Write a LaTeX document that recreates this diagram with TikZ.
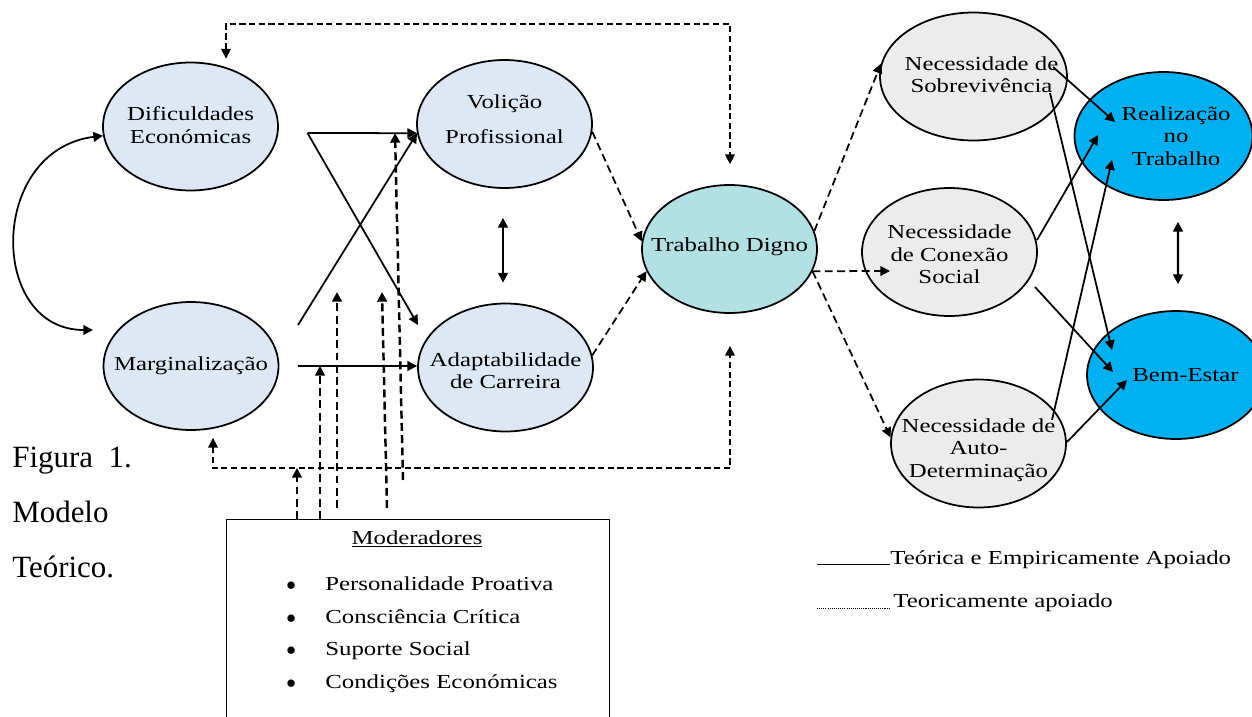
\documentclass[tikz,border=0pt]{standalone}
\usepackage{fontspec}
\setmainfont{Liberation Serif}[FakeStretch=1.25]
\newfontfamily\capfont{Liberation Serif}
\usetikzlibrary{shapes.geometric,arrows.meta,calc}
\definecolor{paleblue}{HTML}{DEE8F4}
\definecolor{paleteal}{HTML}{B2E0E3}
\definecolor{palegray}{HTML}{ECECEC}
\definecolor{brightblue}{HTML}{00B0F0}
\tikzset{
  txt/.style={align=center, font=\fontsize{11.3}{12.75}\selectfont},
  bubble/.style={ellipse, draw, line width=1pt, minimum width=3.5cm, minimum height=2.56cm, inner sep=0pt},
  antecedent/.style={bubble, fill=paleblue},
  mediator/.style={bubble, fill=paleteal},
  needbubble/.style={bubble, fill=palegray},
  outcome/.style={bubble, fill=brightblue, minimum width=3.56cm},
  path solid/.style={line width=1pt, ->},
  path dashed/.style={path solid, dash pattern=on 4.5pt off 2.5pt},
  mod dashed/.style={path dashed, line width=1.4pt},
  elbow/.style={line width=0.7pt, dash pattern=on 3.5pt off 2pt, <->},
  caption/.style={anchor=base west, inner sep=0pt, font=\capfont\fontsize{17.6}{20}\selectfont},
}

\begin{document}
\begin{tikzpicture}[x=0.02cm,y=-0.02cm,>={Triangle[length=5.5pt,width=5.5pt]}]
\useasboundingbox[fill=white] (0,0) rectangle (1252,717);
% ellipses
\node[antecedent, label={[txt, yshift=0.03cm]center:Dificuldades\\Económicas}] (dif) at (190.5,126.5) {};
\node[antecedent, label={[txt]center:Marginalização}] (marg) at (191,366) {};
\node[antecedent, label={[txt, yshift=0.09cm, font=\fontsize{11.3}{19.8}\selectfont]center:Volição\\Profissional}] (vol) at (504.5,124) {};
\node[antecedent, label={[txt, yshift=-0.07cm]center:Adaptabilidade\\de Carreira}] (adapt) at (505.5,367.5) {};
\node[mediator, label={[txt, yshift=0.04cm]center:Trabalho Digno}] (trab) at (729.5,249) {};
\node[needbubble, minimum width=3.74cm, label={[txt, xshift=0.16cm, yshift=0.04cm]center:Necessidade de\\Sobrevivência}] (sob) at (973.5,76.5) {};
\node[needbubble, label={[txt, yshift=-0.05cm]center:Necessidade\\de Conexão\\Social}] (con) at (949.5,252) {};
\node[needbubble, label={[txt, yshift=-0.13cm]center:Necessidade de\\Auto-\\Determinação}] (auto) at (978.5,443.5) {};
\node[outcome, label={[txt, xshift=0.25cm]center:Realização\\no\\Trabalho}] (real) at (1163.5,136) {};
\node[outcome, label={[txt, xshift=0.19cm]center:Bem-Estar}] (bem) at (1176,375) {};

% moderators box
\node[draw, line width=0.8pt, anchor=north west, inner sep=0pt, minimum width=7.66cm, minimum height=4.8cm] (mods) at (226,519) {};
\node[txt, anchor=base] (modtitle) at (417,544) {\underline{Moderadores}};
\node[txt, anchor=base west, inner sep=0pt] (item1) at (286,590) {\makebox[0.78cm][l]{$\bullet$}Personalidade Proativa};
\node[txt, anchor=base west, inner sep=0pt] (item2) at (286,623) {\makebox[0.78cm][l]{$\bullet$}Consciência Crítica};
\node[txt, anchor=base west, inner sep=0pt] (item3) at (286,655) {\makebox[0.78cm][l]{$\bullet$}Suporte Social};
\node[txt, anchor=base west, inner sep=0pt] (item4) at (286,688) {\makebox[0.78cm][l]{$\bullet$}Condições Económicas};

% caption
\node[caption] (fignum) at (12,467) {Figura\ \ 1.};
\node[caption] (figmodel) at (12,522) {Modelo};
\node[caption] (figtheory) at (12,577) {Teórico.};

% legend
\node[txt, anchor=base west, inner sep=0pt] (legsolid) at (890,564) {Teórica e Empiricamente Apoiado};
\node[txt, anchor=base west, inner sep=0pt] (legdash) at (893,607) {Teoricamente apoiado};
\draw[line width=0.5pt] ($(legsolid.base west)+(-73,0)$) -- (legsolid.base west);
\draw[line width=0.5pt, dash pattern=on 0.6pt off 0.6pt] ($(legdash.base west)+(-76,1)$) -- ($(legdash.base west)+(-3,1)$);

% free ends
\coordinate (difout) at (307.5,133);
\coordinate (margup) at (298,325);
\coordinate (margout) at (298,366);
\coordinate (topline) at (0,24);
\coordinate (botline) at (0,468);
\coordinate (difcap) at ($(dif.north)+(35.5,-3)$);
\coordinate (trabcap) at ($(trab.north)+(0.5,-20)$);
\coordinate (margfoot) at ($(marg.south)+(22,7)$);
\coordinate (trabfoot) at ($(trab.south)+(0.5,32)$);

% antecedents -> mediators
\draw[line width=1pt, <->] (dif.186) .. controls (-12,150) and (-12,330) .. ($(marg)+(-98,-36)$);
\draw[path solid] (difout) -- (vol.186);
\draw[path solid] (difout) -- ($(adapt)+(-87.5,-42.5)$);
\draw[path solid] (margup) -- (vol.186);
\draw[path solid] (margout) -- (margout -| adapt.west);
\draw[line width=1.2pt, <->] ($(vol.south)+(-1.5,29)$) -- ($(adapt.north)+(-2.5,-20)$);
\draw[path dashed] (vol.-5) -- (trab.175);
\draw[path dashed] (adapt.8) -- (trab.195);
\draw[elbow] (difcap) -- (difcap |- topline) -| (trabcap);
\draw[elbow] (margfoot) -- (margfoot |- botline) -| (trabfoot);

% mediator -> needs
\draw[path dashed] (trab.12) -- (sob.172);
\draw[path dashed] (trab.-15) -- ($(con)+(-59.5,19)$);
\draw[path dashed] (trab.-15) -- (auto.176);

% needs -> outcomes
\draw[path solid] ($(sob)+(79.5,-9.5)$) -- ($(real)+(-48.5,-14)$);
\draw[path solid] ($(sob)+(76.5,16.5)$) -- ($(bem)+(-64,-25)$);
\draw[path solid] ($(con)+(87.5,-12)$) -- ($(real)+(-65.5,-1)$);
\draw[path solid] ($(auto)+(73.5,-23.5)$) -- ($(real)+(-51.5,24)$);
\draw[path solid] ($(con)+(85.5,35)$) -- ($(bem)+(-63,-3)$);
\draw[path solid] ($(auto)+(88.5,-1.5)$) -- ($(bem)+(-49,5)$);
\draw[line width=1.2pt, <->] ($(real.south)+(14.5,21)$) -- ($(bem.north)+(2,-26)$);

% moderator arrows
\coordinate (modA) at ($(mods.north west)+(71,0)$);
\coordinate (modB) at ($(mods.north west)+(94,0)$);
\coordinate (modC) at (337,508);
\coordinate (modCtip) at (337,292);
\coordinate (modD) at (387,508);
\coordinate (modDtip) at (382,292);
\coordinate (modE) at (403,480);
\coordinate (modEtip) at (395,133);
\draw[mod dashed] (modA) -- (modA |- botline);
\draw[mod dashed] (modB) -- (modB |- margout);
\draw[mod dashed] (modC) -- (modCtip);
\draw[mod dashed] (modD) -- (modDtip);
\draw[mod dashed] (modE) -- (modEtip);
\end{tikzpicture}
\end{document}
